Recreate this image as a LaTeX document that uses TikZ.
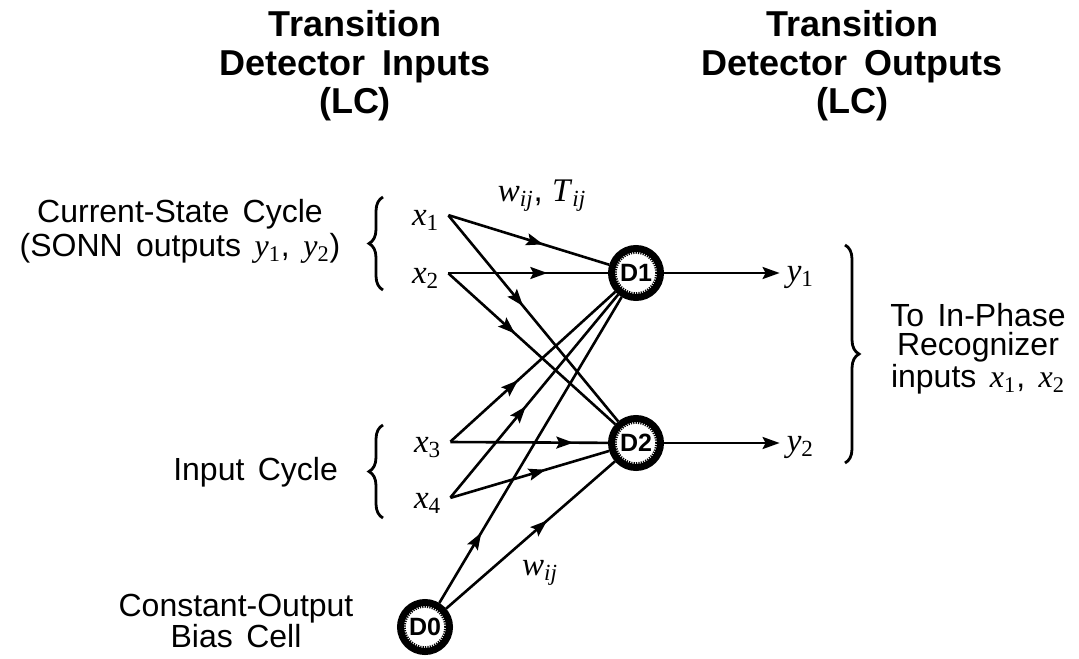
\documentclass[tikz,border=0pt]{standalone}
\usepackage{fontspec}
\setmainfont{Liberation Sans}
\newfontfamily\tms{Liberation Serif}
\usetikzlibrary{positioning,arrows.meta,decorations.markings,decorations.pathreplacing}

\newcommand{\tvar}[2]{{\tms\itshape #1\/\textsubscript{\upshape #2}}}
\newcommand{\tvij}[1]{{\tms\itshape #1\/\textsubscript{ij}}}

\begin{document}
\begin{tikzpicture}[
    x=0.5pt, y=-0.5pt,
    heading/.style={font={\fontsize{18}{19.3}\selectfont\bfseries\spaceskip=0.45em\relax}, align=center},
    lbl/.style={font={\fontsize{16}{#1}\selectfont\spaceskip=0.42em\relax}, align=center},
    lbl/.default=16.5pt,
    var/.style={font=\fontsize{16.5}{17}\selectfont, inner sep=1pt},
    cell/.style={circle, draw, line width=3.5pt, minimum size=24.5pt, inner sep=0pt,
        font=\fontsize{12.5}{13}\selectfont\bfseries,
        path picture={\draw[line width=1.2pt, dash pattern=on 0.6pt off 0.6pt]
            (path picture bounding box.center) circle (10.2pt);}},
    xin/.style={inner sep=0pt, minimum size=0pt,
        label={[var, anchor=base east, xshift=-3pt, yshift=-5pt]left:#1}},
    yout/.style={inner sep=0pt, minimum size=0pt,
        label={[var, anchor=base west, xshift=2pt, yshift=-4pt]right:#1}},
    wire/.style={line width=1.3pt, postaction={decorate},
        decoration={markings, mark=at position #1 with {\arrow{Stealth[length=8.5pt,width=6pt,inset=1.5pt]}}}},
    outarrow/.style={-{Stealth[length=8.5pt,width=6pt,inset=1.5pt]}, line width=1.3pt},
    brc/.style={decorate, decoration={brace, amplitude=7pt}, line width=1.4pt}
]
\useasboundingbox (0,0) rectangle (1079,658);

% Titles
\node[heading] (intitle) at (355,66) {Transition\\Detector Inputs\\(LC)};
\node[heading] (outtitle) at (852,66) {Transition\\Detector Outputs\\(LC)};

% Inputs
\node[xin=\tvar{x}{1}] (x1) at (448,215) {};
\node[xin=\tvar{x}{2}] (x2) at (448,273) {};
\node[xin=\tvar{x}{3}] (x3) at (450,442) {};
\node[xin=\tvar{x}{4}] (x4) at (450,498) {};

% Detector cells
\node[cell] (d1) at (636,273) {D1};
\node[cell] (d2) at (636,443) {D2};
\node[cell] (d0) at (425,627) {D0};

% Outputs
\node[yout=\tvar{y}{1}] (y1) at (780,273) {};
\node[yout=\tvar{y}{2}] (y2) at (780,443) {};

% Weights
\draw[wire=0.59] (x1) -- (d1);
\draw[wire=0.44] (x1) -- (d2);
\draw[wire=0.62] (x2) -- (d1);
\draw[wire=0.40] (x2) -- (d2);
\draw[wire=0.41] (x3) -- (d1);
\draw[wire=0.78] (x3) -- (d2);
\draw[wire=0.45] (x4) -- (d1);
\draw[wire=0.60] (x4) -- (d2);
\draw[wire=0.23] (d0) -- (d1);
\draw[wire=0.60] (d0) -- (d2);
\draw[outarrow] (d1) -- (y1);
\draw[outarrow] (d2) -- (y2);

\node[var] (wtop) at (542,196) {\tvij{w}, \tvij{T}};
\node[var] (wbot) at (540,573) {\tvij{w}};

% Braces
\draw[brc] (383,290) -- (383,197);
\draw[brc] (383,518) -- (383,425);
\draw[brc] (845,245) -- (845,463);

% Side labels
\node[lbl=17pt] (curlbl) at (180,231) {Current-State Cycle\\(SONN outputs \tvar{y}{1}, \tvar{y}{2})};
\node[lbl, anchor=east] (inlbl) at (345,472) {Input Cycle};
\node[lbl=15.5pt] (biaslbl) at (236,621) {Constant-Output\\Bias Cell};
\node[lbl=14.5pt] (tolbl) at (978,349) {To In-Phase\\Recognizer\\inputs \tvar{x}{1}, \tvar{x}{2}};

\end{tikzpicture}
\end{document}
